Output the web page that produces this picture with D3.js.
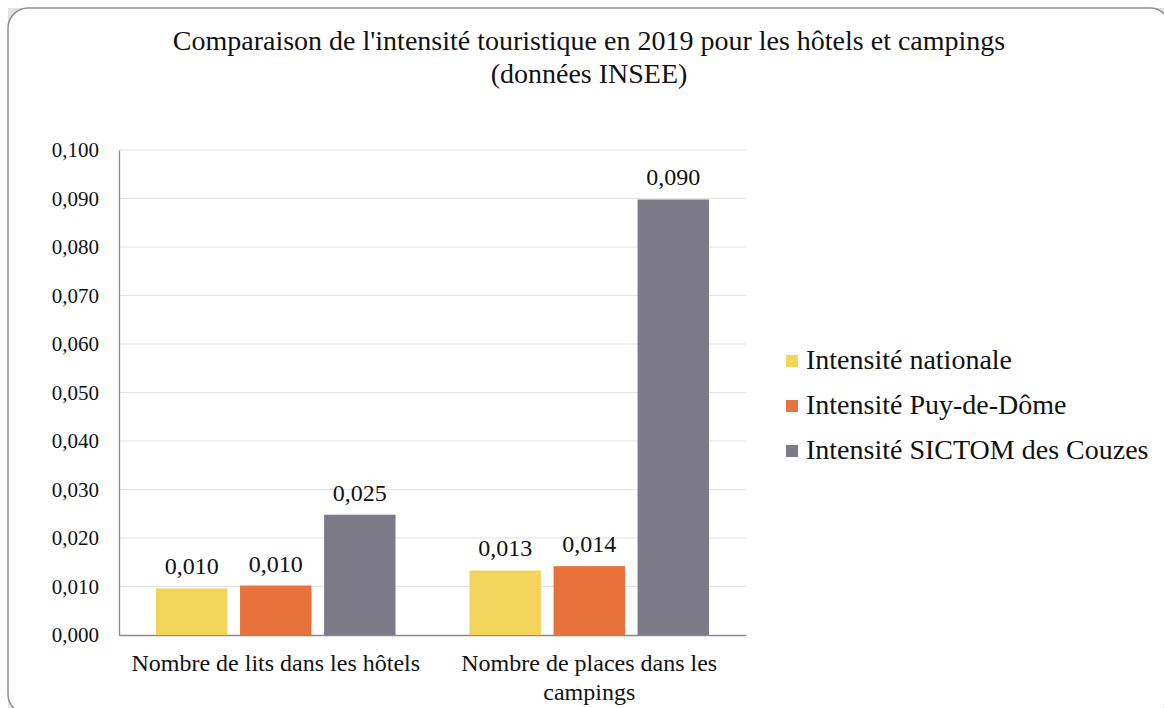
<!DOCTYPE html>
<html>
<head>
<meta charset="utf-8">
<script src="https://cdn.jsdelivr.net/npm/d3@7"></script>
<style>
  html, body { margin: 0; padding: 0; background: #ffffff; }
  svg { display: block; }
  text { font-family: "Liberation Serif", "DejaVu Serif", serif; fill: #111111; }
</style>
</head>
<body>
<svg id="chart" width="1164" height="708"></svg>
<script>
const categories = [["Nombre de lits dans les hôtels"], ["Nombre de places dans les", "campings"]];
const categoryKeys = ["hotels", "campings"];
const seriesNames = ["Intensité nationale", "Intensité Puy-de-Dôme", "Intensité SICTOM des Couzes"];
const seriesColors = ["#F2D45C", "#E8723C", "#7B7A86"];
const valuesNationale = [0.0096, 0.0133];
const valuesPuyDeDome = [0.0102, 0.0142];
const valuesSictom = [0.0248, 0.0898];
const valueLabelsNationale = ["0,010", "0,013"];
const valueLabelsPuyDeDome = ["0,010", "0,014"];
const valueLabelsSictom = ["0,025", "0,090"];
const yTicks = [0, 0.01, 0.02, 0.03, 0.04, 0.05, 0.06, 0.07, 0.08, 0.09, 0.1];
const titleLines = ["Comparaison de l'intensité touristique en 2019 pour les hôtels et campings", "(données INSEE)"];

const seriesValues = [valuesNationale, valuesPuyDeDome, valuesSictom];
const seriesLabels = [valueLabelsNationale, valueLabelsPuyDeDome, valueLabelsSictom];

const svg = d3.select("#chart");

// frame
svg.append("rect").attr("x", 8).attr("y", 8).attr("width", 1200).attr("height", 760).attr("fill", "#e2e2e2");
svg.append("rect").attr("x", 8).attr("y", 8).attr("width", 1162).attr("height", 706)
  .attr("rx", 20).attr("ry", 20).attr("fill", "#ffffff").attr("stroke", "#8f8f8f").attr("stroke-width", 1.5);

const plot = { left: 119, right: 746, top: 150, bottom: 635 };

const y = d3.scaleLinear().domain([0, 0.1]).range([plot.bottom, plot.top]);
const x0 = d3.scaleBand().domain(categoryKeys).range([plot.left, plot.right]).paddingInner(0.236).paddingOuter(0.118);
const x1 = d3.scaleBand().domain(d3.range(seriesNames.length)).range([0, x0.bandwidth()]).paddingInner(0.15);

const fmt = v => d3.format(".3f")(v).replace(".", ",");

// gridlines
svg.append("g").selectAll("line").data(yTicks.slice(1)).join("line")
  .attr("x1", plot.left).attr("x2", plot.right)
  .attr("y1", d => y(d)).attr("y2", d => y(d))
  .attr("stroke", "#e3e3e3").attr("stroke-width", 1.2);

// y axis
const yAxis = d3.axisLeft(y).tickValues(yTicks).tickFormat(fmt).tickSize(0).tickPadding(20);
const gy = svg.append("g").attr("transform", `translate(${plot.left},0)`).call(yAxis);
gy.select(".domain").attr("stroke", "#8a8a8a").attr("stroke-width", 1.3);
gy.selectAll("text").attr("font-size", 21).attr("font-family", "Liberation Serif").attr("fill", "#111111");

// x axis
const xAxis = d3.axisBottom(x0).tickSize(0).tickFormat("");
const gx = svg.append("g").attr("transform", `translate(0,${plot.bottom})`).call(xAxis);
gx.select(".domain").attr("stroke", "#8a8a8a").attr("stroke-width", 1.3);

// category labels
categoryKeys.forEach((k, i) => {
  const t = svg.append("text").attr("text-anchor", "middle").attr("font-size", 24)
    .attr("x", x0(k) + x0.bandwidth() / 2).attr("y", 671);
  categories[i].forEach((line, j) => {
    t.append("tspan").attr("x", x0(k) + x0.bandwidth() / 2).attr("dy", j === 0 ? 0 : 29).text(line);
  });
});

// bars
seriesNames.forEach((s, si) => {
  const g = svg.append("g");
  g.selectAll("rect").data(seriesValues[si]).join("rect")
    .attr("x", (d, i) => x0(categoryKeys[i]) + x1(si))
    .attr("width", x1.bandwidth())
    .attr("y", d => y(d))
    .attr("height", d => y(0) - y(d))
    .attr("fill", seriesColors[si]);
  g.selectAll("text").data(seriesValues[si]).join("text")
    .attr("x", (d, i) => x0(categoryKeys[i]) + x1(si) + x1.bandwidth() / 2)
    .attr("y", d => y(d) - 14)
    .attr("text-anchor", "middle").attr("font-size", 24)
    .text((d, i) => seriesLabels[si][i]);
});

// title
svg.append("text").attr("x", 589).attr("y", 50).attr("text-anchor", "middle").attr("font-size", 28).text(titleLines[0]);
svg.append("text").attr("x", 589).attr("y", 83).attr("text-anchor", "middle").attr("font-size", 28).text(titleLines[1]);

// legend
const legend = svg.append("g").attr("transform", "translate(786,0)");
seriesNames.forEach((s, i) => {
  const cy = 361 + i * 45;
  legend.append("rect").attr("x", 0).attr("y", cy - 6).attr("width", 12).attr("height", 12).attr("fill", seriesColors[i]);
  legend.append("text").attr("x", 20).attr("y", cy + 8).attr("font-size", 28).text(s);
});
</script>
</body>
</html>
